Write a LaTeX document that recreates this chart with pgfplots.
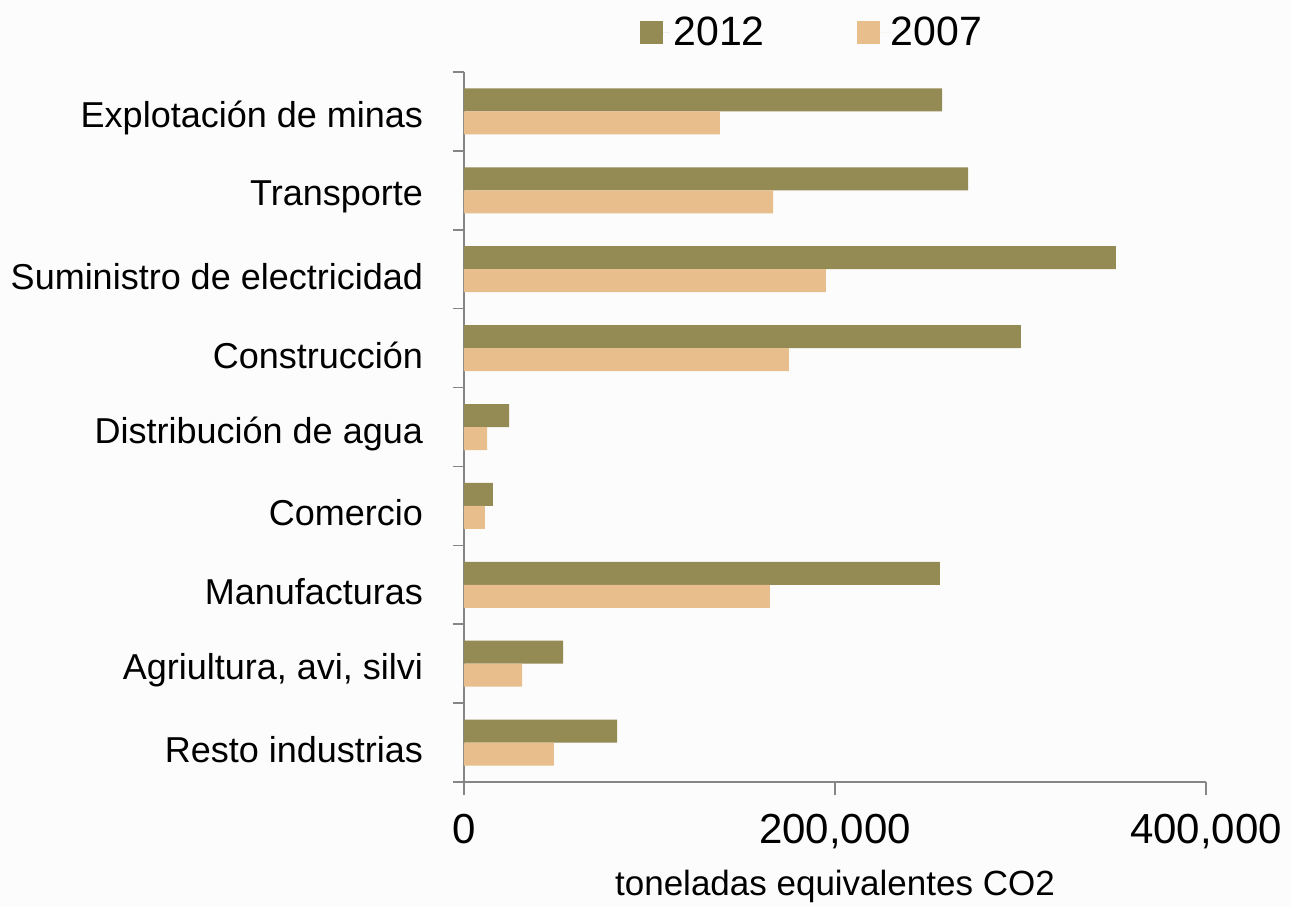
\documentclass[border=0pt]{standalone}
\usepackage{pgfplots}
\pgfplotsset{compat=1.18}
\usepackage{fontspec}
\setmainfont{Liberation Sans}
\definecolor{c2012}{HTML}{948A54}
\definecolor{c2007}{HTML}{E8BF8C}
\definecolor{axgray}{HTML}{868686}
\definecolor{bg}{HTML}{FCFCFC}
\begin{document}
\begin{tikzpicture}
\fill[bg] (0,0) rectangle (645.5pt,453pt);
\useasboundingbox (0,0) rectangle (645.5pt,453pt);
\begin{axis}[
    at={(232pt,62pt)}, anchor=south west,
    width=371pt, height=355pt, scale only axis,
    xbar, bar width=11.5pt,
    xmin=0, xmax=400000,
    ymin=-0.5, ymax=8.5,
    y dir=reverse,
    axis x line*=bottom, axis y line*=left,
    axis line style={axgray, line width=0.75pt},
    tick align=outside,
    xtick={0,200000,400000},
    xticklabels={0,{200,000},{400,000}},
    scaled x ticks=false,
    ytick={0,...,8},
    yticklabels={Explotación de minas,Transporte,Suministro de electricidad,Construcción,Distribución de agua,Comercio,Manufacturas,{Agriultura, avi, silvi},Resto industrias},
    minor ytick={-0.5,0.5,...,8.5},
    major tick length=6.5pt, minor tick length=5.5pt,
    every major y tick/.style={draw=none},
    every tick/.style={axgray, line width=0.75pt},
    every minor tick/.style={axgray, line width=0.75pt},
    yticklabel style={font=\fontsize{18}{21}\selectfont, xshift=-10.5pt, yshift=-3.5pt},
    xticklabel style={font=\fontsize{21}{25}\selectfont, yshift=-6pt},
    xlabel={toneladas equivalentes CO2},
    xlabel style={font=\fontsize{17.5}{21}\selectfont, at={(axis description cs:0.5,0)}, anchor=center, yshift=-52pt},
    legend columns=2,
    legend style={draw=none, fill=none, at={(0.47,1.055)}, anchor=center,
        font=\fontsize{20.5}{24}\selectfont,
        /tikz/every even column/.append style={column sep=44pt}},
    legend image code/.code={\fill[#1] (0pt,-5.75pt) rectangle (11.5pt,5.75pt); \path (0pt,0pt) -- (15pt,0pt);},
]
\addplot[draw=none, fill=c2012, bar shift=5.75pt] coordinates {
(257700,0) (271700,1) (351400,2) (300200,3) (24300,4)
(15600,5) (256600,6) (53400,7) (82500,8)};
\addplot[draw=none, fill=c2007, bar shift=-5.75pt] coordinates {
(138000,0) (166600,1) (195100,2) (175200,3) (12400,4)
(11300,5) (164900,6) (31300,7) (48500,8)};
\legend{2012,2007}
\end{axis}
\end{tikzpicture}
\end{document}
